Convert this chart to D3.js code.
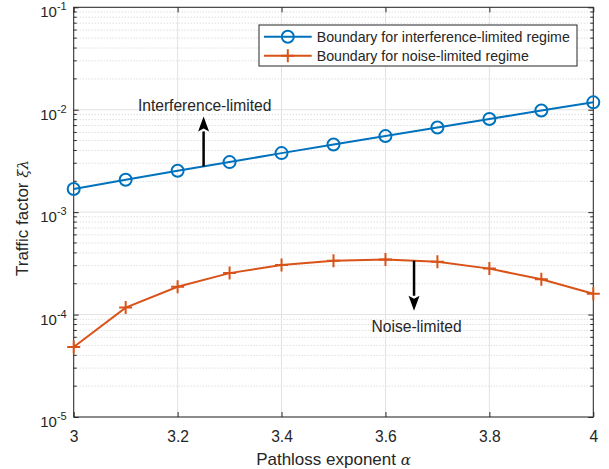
<!DOCTYPE html>
<html><head><meta charset="utf-8">
<script src="https://cdn.jsdelivr.net/npm/d3@7"></script>
<style>body{margin:0;background:#fff}svg{display:block}text{font-family:"Liberation Sans",Arial,sans-serif;fill:#262626}</style>
</head><body>
<svg id="c" width="609" height="469"></svg>
<script>
const alphas = [3.0,3.1,3.2,3.3,3.4,3.5,3.6,3.7,3.8,3.9,4.0];
const interfBoundary = [1.68e-3,2.07e-3,2.54e-3,3.08e-3,3.77e-3,4.58e-3,5.53e-3,6.71e-3,8.11e-3,9.84e-3,1.18e-2];
const noiseBoundary = [4.82e-5,1.17e-4,1.87e-4,2.54e-4,3.05e-4,3.36e-4,3.44e-4,3.27e-4,2.81e-4,2.21e-4,1.60e-4];
const seriesNames = ["Boundary for interference-limited regime","Boundary for noise-limited regime"];
const xTicks = [3,3.2,3.4,3.6,3.8,4];
const yExps = [-5,-4,-3,-2,-1];
const annotations = [
  {text:"Interference-limited", x:3.252, y:9.75e-3},
  {text:"Noise-limited", x:3.66, y:6.7e-5}
];
const arrows = [
  {x:3.25, from:2.79e-3, to:8.6e-3},
  {x:3.655, from:3.36e-4, to:1.09e-4}
];

const svg = d3.select("#c");
const L=73.7,R=593.3,T=7.3,B=417;
const x = d3.scaleLinear().domain([3,4]).range([L,R]);
const y = d3.scaleLog().domain([1e-5,1e-1]).range([B,T]);
const blue="#0072BD", red="#D95319", ax="#262626";

// grid
const g = svg.append("g");
const minor=[];
for(let e=-5;e<-1;e++) for(let m=2;m<=9;m++) minor.push(m*Math.pow(10,e));
g.selectAll(".mn").data(minor).join("line").attr("x1",L).attr("x2",R)
 .attr("y1",d=>y(d)).attr("y2",d=>y(d)).attr("stroke","#cfcfcf").attr("stroke-width",1).attr("stroke-dasharray","1,2");
g.selectAll(".mjy").data(yExps).join("line").attr("x1",L).attr("x2",R)
 .attr("y1",d=>y(Math.pow(10,d))).attr("y2",d=>y(Math.pow(10,d))).attr("stroke","#e3e3e3").attr("stroke-width",1);
g.selectAll(".mjx").data(xTicks).join("line").attr("y1",T).attr("y2",B)
 .attr("x1",d=>x(d)).attr("x2",d=>x(d)).attr("stroke","#e3e3e3").attr("stroke-width",1);

// axes (d3 axes for ticks)
const xb = svg.append("g").attr("transform",`translate(0,${B})`)
 .call(d3.axisBottom(x).tickValues(xTicks).tickSizeInner(-5).tickSizeOuter(0).tickPadding(14).tickFormat(d3.format("")));
const xt = svg.append("g").attr("transform",`translate(0,${T})`)
 .call(d3.axisTop(x).tickValues(xTicks).tickSizeInner(-5).tickSizeOuter(0).tickFormat(""));
const yl = svg.append("g").attr("transform",`translate(${L},0)`)
 .call(d3.axisLeft(y).tickValues(yExps.map(e=>Math.pow(10,e))).tickSizeInner(-5).tickSizeOuter(0).tickFormat(""));
const yr = svg.append("g").attr("transform",`translate(${R},0)`)
 .call(d3.axisRight(y).tickValues(yExps.map(e=>Math.pow(10,e))).tickSizeInner(-5).tickSizeOuter(0).tickFormat(""));
[xb,xt,yl,yr].forEach(a=>{a.select(".domain").remove();a.selectAll("line").attr("stroke",ax);});
xb.selectAll("text").attr("font-size","15.6px").attr("fill",ax).style("font-family","Liberation Sans, Arial, sans-serif");
// minor ticks
[[L,1],[R,-1]].forEach(([px,s])=>{
  svg.append("g").selectAll("line").data(minor).join("line")
   .attr("x1",px).attr("x2",px+s*3).attr("y1",d=>y(d)).attr("y2",d=>y(d)).attr("stroke",ax);
});
// frame
svg.append("rect").attr("x",L).attr("y",T).attr("width",R-L).attr("height",B-T)
 .attr("fill","none").attr("stroke",ax).attr("stroke-width",1);

// y tick labels
const ytl = svg.append("g").selectAll("text").data(yExps).join("text")
 .attr("x",L-7).attr("y",d=>y(Math.pow(10,d))+10).attr("text-anchor","end").attr("font-size","15px");
ytl.append("tspan").text("10");
ytl.append("tspan").attr("dy",-7).attr("font-size","11px").text(d=>"-"+(-d));

// labels
svg.append("text").attr("x",(L+R)/2).attr("y",464.5).attr("text-anchor","middle").attr("font-size","17px")
 .text("Pathloss exponent ").append("tspan").attr("font-family","DejaVu Serif").attr("font-style","italic").attr("font-size","15px").text("α");
const ylab = svg.append("text").attr("transform","translate(28,218) rotate(-90)").attr("text-anchor","middle").attr("font-size","17px");
ylab.append("tspan").text("Traffic factor ");
ylab.append("tspan").attr("font-family","DejaVu Serif").attr("font-style","italic").attr("font-size","15px").text("ξλ");

// lines
const line = d3.line().x((d,i)=>x(alphas[i])).y(d=>y(d));
svg.append("path").datum(interfBoundary).attr("d",line).attr("fill","none").attr("stroke",blue).attr("stroke-width",2);
svg.append("path").datum(noiseBoundary).attr("d",line).attr("fill","none").attr("stroke",red).attr("stroke-width",2);
svg.append("g").selectAll("circle").data(interfBoundary).join("circle")
 .attr("cx",(d,i)=>x(alphas[i])).attr("cy",d=>y(d)).attr("r",6).attr("fill","none").attr("stroke",blue).attr("stroke-width",2);
const plus=(sel,s)=>sel.attr("d",d=>`M${-s},0H${s}M0,${-s}V${s}`);
svg.append("g").selectAll("path").data(noiseBoundary).join("path")
 .attr("transform",(d,i)=>`translate(${x(alphas[i])},${y(d)})`).call(plus,6.5)
 .attr("stroke",red).attr("stroke-width",2).attr("fill","none");

// arrows
arrows.forEach(a=>{
  const px=x(a.x), y0=y(a.from), y1=y(a.to), dir = y1<y0?1:-1;
  const hb = y1+dir*15;
  svg.append("line").attr("x1",px).attr("x2",px).attr("y1",y0).attr("y2",hb).attr("stroke","#000").attr("stroke-width",2.5);
  svg.append("path").attr("d",`M${px},${y1}L${px-5.5},${hb}L${px},${hb-dir*3}L${px+5.5},${hb}Z`).attr("fill","#000");
});
svg.append("g").selectAll("text").data(annotations).join("text")
 .attr("x",d=>x(d.x)).attr("y",d=>y(d.y)).attr("text-anchor","middle").attr("font-size","15.6px").attr("fill","#000").text(d=>d.text);

// legend
const lg = svg.append("g");
lg.append("rect").attr("x",259).attr("y",25).attr("width",318).attr("height",41).attr("fill","#fff").attr("stroke",ax).attr("stroke-width",1);
const rows=[36.7,55.7];
seriesNames.forEach((n,i)=>{
  const col = i===0?blue:red;
  lg.append("line").attr("x1",264).attr("x2",311.7).attr("y1",rows[i]).attr("y2",rows[i]).attr("stroke",col).attr("stroke-width",2);
  if(i===0) lg.append("circle").attr("cx",287.8).attr("cy",rows[i]).attr("r",6).attr("fill","none").attr("stroke",col).attr("stroke-width",2);
  else lg.append("path").attr("transform",`translate(287.8,${rows[i]})`).call(plus,6.5).attr("stroke",col).attr("stroke-width",2);
  lg.append("text").attr("x",316.7).attr("y",rows[i]+5).attr("font-size","14.2px").attr("fill","#000").text(n);
});
</script>
</body></html>
